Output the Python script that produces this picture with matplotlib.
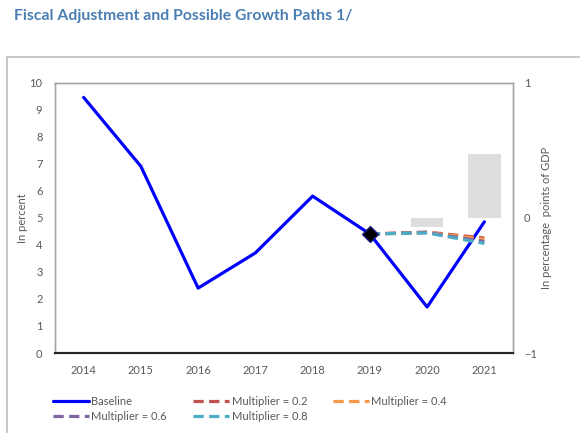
import numpy as np
import matplotlib.pyplot as plt
from matplotlib.patches import Rectangle

plt.rcParams['font.family'] = ['Lato', 'DejaVu Sans']

# ========================
# Data
# ========================
years = ["2014", "2015", "2016", "2017", "2018", "2019", "2020", "2021"]
baseline = [9.45, 6.9, 2.4, 3.7, 5.8, 4.4, 1.7, 4.85]

path_years = ["2019", "2020", "2021"]
mult_02 = [4.4, 4.47, 4.25]
mult_04 = [4.4, 4.46, 4.2]
mult_06 = [4.4, 4.45, 4.12]
mult_08 = [4.4, 4.44, 4.05]

bar_years = ["2020", "2021"]
fiscal_adj = [-0.065, 0.47]   # right axis, pp of GDP

TITLE_BLUE = "#4a7eb4"
TICK_GREY = "#595959"

fig = plt.figure(figsize=(5.8, 4.33), dpi=100)

# outer chart frame (runs off the right/bottom edge like the source)
fig.patches.append(Rectangle((7 / 580, -0.1), 1.2, 1 - 57 / 433 + 0.1,
                             transform=fig.transFigure, fill=False,
                             edgecolor="#bfbfbf", linewidth=1.2))

fig.text(14 / 580, 1 - 16 / 433, "Fiscal Adjustment and Possible Growth Paths 1/",
         color=TITLE_BLUE, fontsize=11.3, fontweight="bold", va="center", ha="left")

ax = fig.add_axes([55 / 580, 1 - 353 / 433, (513 - 55) / 580, (353 - 82.5) / 433])
ax2 = ax.twinx()

x = np.arange(len(years))
idx = {y: i for i, y in enumerate(years)}

# bars on the secondary axis, behind the lines
ax2.bar([idx[y] for y in bar_years], fiscal_adj, width=0.57, color="#dedede", zorder=1)
ax2.set_ylim(-1, 1)
ax2.set_yticks([-1, 0, 1])
ax2.set_ylabel("In percentage  points of GDP", fontsize=8, color=TICK_GREY)
ax2.yaxis.set_label_coords((541 - 55) / (513 - 55), 0.5)

ax.set_zorder(ax2.get_zorder() + 1)
ax.patch.set_visible(False)

ax.plot(x, baseline, color="#0000ff", linewidth=2.3, label="Baseline",
        solid_capstyle="round", solid_joinstyle="round")
px = [idx[y] for y in path_years]
dash = (0, (3.2, 1.7))
ax.plot(px, mult_02, color="#c0504d", linewidth=2.3, linestyle=dash, label="Multiplier = 0.2")
ax.plot(px, mult_04, color="#f79646", linewidth=2.3, linestyle=dash, label="Multiplier = 0.4")
ax.plot(px, mult_06, color="#8064a2", linewidth=2.3, linestyle=dash, label="Multiplier = 0.6")
ax.plot(px, mult_08, color="#4bacc6", linewidth=2.3, linestyle=dash, label="Multiplier = 0.8")
ax.plot([idx["2019"]], [baseline[idx["2019"]]], marker="D", markersize=8,
        color="black", markeredgecolor="#1a1a80", markeredgewidth=1, zorder=5)

ax.set_xlim(-0.5, len(years) - 0.5)
ax.set_ylim(0, 10)
ax.set_yticks(range(0, 11))
ax.set_xticks(x)
ax.set_xticklabels(years)
ax.set_ylabel("In percent", fontsize=8, color=TICK_GREY)
ax.yaxis.set_label_coords((28 - 55) / (513 - 55), 0.5)

for a in (ax, ax2):
    a.tick_params(length=0, labelsize=8, colors=TICK_GREY)
    for side in ("top", "left", "right"):
        a.spines[side].set_color("#a6a6a6")
        a.spines[side].set_linewidth(1)
    a.spines["bottom"].set_color("#262626")
    a.spines["bottom"].set_linewidth(1.5)
ax.tick_params(axis="x", pad=9)
ax.tick_params(axis="y", pad=9)
ax2.tick_params(axis="y", pad=8)

# legend: column-wise fill so rows read Baseline / 0.2 / 0.4, then 0.6 / 0.8
h, l = ax.get_legend_handles_labels()
order = [0, 3, 1, 4, 2]
fig.legend([h[i] for i in order], [l[i] for i in order], ncol=3,
           loc="upper left", bbox_to_anchor=(47 / 580, 1 - 390 / 433),
           frameon=False, fontsize=8, handlelength=3.3, handletextpad=0.2,
           columnspacing=2.3, labelspacing=0.4, borderpad=0,
           labelcolor=TICK_GREY)

fig.savefig("out.png", dpi=100)
